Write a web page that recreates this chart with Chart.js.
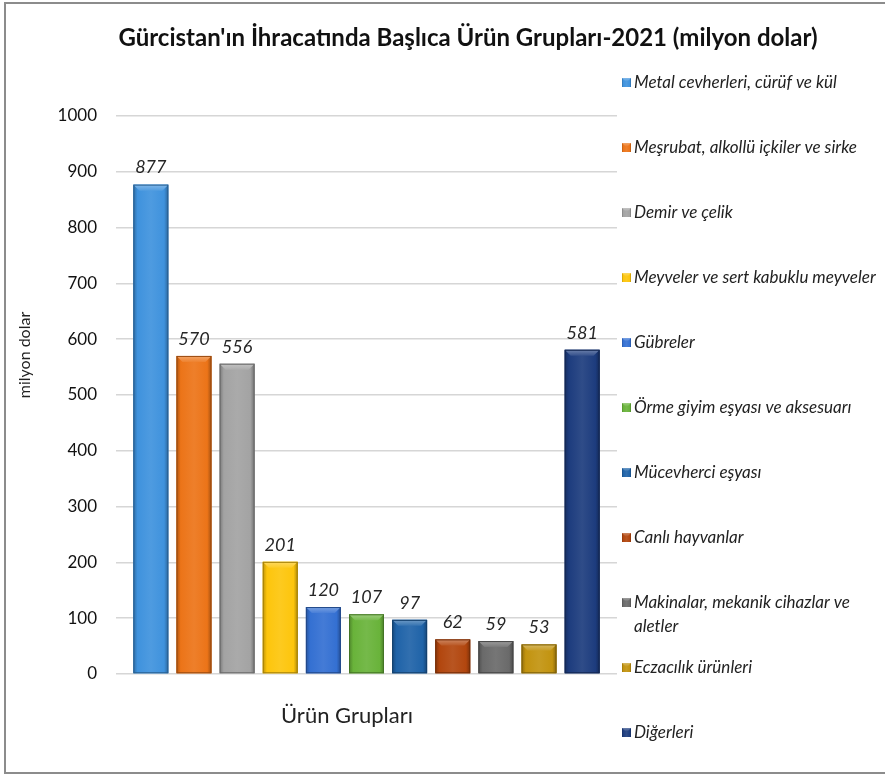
<!DOCTYPE html>
<html>
<head>
<meta charset="utf-8">
<script src="https://cdn.jsdelivr.net/npm/chart.js@4.4.1/dist/chart.umd.min.js"></script>
<style>
html,body{margin:0;padding:0;background:#fff;}
#wrap{position:relative;width:885px;height:776px;overflow:hidden;}
#frame{position:absolute;left:4px;top:2px;width:900px;height:768px;border:2px solid #8c8c8c;pointer-events:none;}
canvas{position:absolute;left:0;top:0;}
</style>
</head>
<body>
<div id="wrap"><canvas id="myChart" width="885" height="776"></canvas><div id="frame"></div></div>
<script>
const titleText = "Gürcistan'ın İhracatında Başlıca Ürün Grupları-2021 (milyon dolar)";
const yTitle = 'milyon dolar';
const categories = ['Ürün Grupları'];
const groups = [
	'Metal cevherleri, cürüf ve kül',
	'Meşrubat, alkollü içkiler ve sirke',
	'Demir ve çelik',
	'Meyveler ve sert kabuklu meyveler',
	'Gübreler',
	'Örme giyim eşyası ve aksesuarı',
	'Mücevherci eşyası',
	'Canlı hayvanlar',
	'Makinalar, mekanik cihazlar ve aletler',
	'Eczacılık ürünleri',
	'Diğerleri'
];
const values = [877, 570, 556, 201, 120, 107, 97, 62, 59, 53, 581];
const colors = ['#3f92dd', '#ec7418', '#a3a3a3', '#fdc50c', '#3470d2', '#69b33a', '#1f63a8', '#b2460e', '#6a6a6a', '#c2930f', '#1d3c7e'];
const yMin = 0, yMax = 1000, yStep = 100;

const font = 'Lato, "Open Sans", sans-serif';

function shade(hex, f) {
	const n = parseInt(hex.slice(1), 16);
	let r = n >> 16, g = (n >> 8) & 255, b = n & 255;
	if (f < 0) { r *= 1 + f; g *= 1 + f; b *= 1 + f; }
	else { r += (255 - r) * f; g += (255 - g) * f; b += (255 - b) * f; }
	return 'rgb(' + Math.round(r) + ',' + Math.round(g) + ',' + Math.round(b) + ')';
}

function bevel(ctx, x, y, w, h, col) {
	const g = ctx.createLinearGradient(x, 0, x + w, 0);
	g.addColorStop(0, shade(col, -0.25));
	g.addColorStop(0.12, col);
	g.addColorStop(0.5, shade(col, 0.08));
	g.addColorStop(0.88, col);
	g.addColorStop(1, shade(col, -0.3));
	ctx.fillStyle = g;
	ctx.fillRect(x, y, w, h);
	const t = Math.min(6, h / 3);
	const g2 = ctx.createLinearGradient(0, y, 0, y + t);
	g2.addColorStop(0, shade(col, 0.35));
	g2.addColorStop(1, shade(col, 0.1));
	ctx.fillStyle = g2;
	ctx.beginPath();
	ctx.moveTo(x, y);
	ctx.lineTo(x + w, y);
	ctx.lineTo(x + w - t, y + t);
	ctx.lineTo(x + t, y + t);
	ctx.closePath();
	ctx.fill();
}

const extras = {
	id: 'extras',
	afterDatasetsDraw(chart) {
		const ctx = chart.ctx;
		ctx.save();
		chart.data.datasets.forEach(function(ds, i) {
			const bar = chart.getDatasetMeta(i).data[0];
			const x = bar.x - bar.width / 2;
			bevel(ctx, x, bar.y, bar.width, bar.base - bar.y, ds.backgroundColor);
			ctx.strokeStyle = shade(ds.backgroundColor, -0.35);
			ctx.lineWidth = 1;
			ctx.strokeRect(x + 0.5, bar.y + 0.5, bar.width - 1, bar.base - bar.y - 1);
			ctx.fillStyle = '#262626';
			ctx.font = 'italic 18px ' + font;
			ctx.textAlign = 'center';
			ctx.textBaseline = 'middle';
			ctx.fillText(ds.data[0], bar.x, bar.y - 17);
		});

		// title
		ctx.fillStyle = '#111';
		ctx.font = 'bold 24px ' + font;
		ctx.textAlign = 'center';
		ctx.textBaseline = 'middle';
		ctx.fillText(titleText, 468, 38);

		// axis titles
		ctx.font = '16px ' + font;
		ctx.fillStyle = '#222';
		ctx.save();
		ctx.translate(25, 355);
		ctx.rotate(-Math.PI / 2);
		ctx.fillText(yTitle, 0, 0);
		ctx.restore();
		ctx.font = '22px ' + font;
		ctx.fillText(categories[0], 347, 716);

		// legend
		ctx.font = 'italic 17px ' + font;
		ctx.textAlign = 'left';
		const lx = 622, tx = 634;
		chart.data.datasets.forEach(function(ds, i) {
			const cy = 83 + 65 * i;
			bevel(ctx, lx, cy - 5, 9, 9, ds.backgroundColor);
			const words = ds.label.split(' ');
			const lines = [];
			let cur = '';
			words.forEach(function(w) {
				const t = cur ? cur + ' ' + w : w;
				if (ctx.measureText(t).width > 250 && cur) { lines.push(cur); cur = w; } else cur = t;
			});
			lines.push(cur);
			ctx.fillStyle = '#222';
			lines.forEach(function(l, k) { ctx.fillText(l, tx, cy + k * 24); });
		});
		ctx.restore();
	}
};

const ctx = document.getElementById('myChart');
const chart = new Chart(ctx, {
	type: 'bar',
	data: {
		labels: categories,
		datasets: groups.map(function(g, i) {
			return { label: g, data: [values[i]], backgroundColor: colors[i] };
		})
	},
	options: {
		responsive: false,
		animation: false,
		categoryPercentage: 0.947,
		barPercentage: 0.81,
		layout: { padding: { top: 116, right: 268, bottom: 102, left: 0 } },
		plugins: { legend: { display: false }, title: { display: false }, tooltip: { enabled: false } },
		scales: {
			x: { display: false },
			y: {
				min: yMin,
				max: yMax,
				afterFit: function(s) { s.width = 116; },
				border: { display: false },
				grid: { color: '#d6d6d6', lineWidth: 1.5, drawTicks: false },
				ticks: { stepSize: yStep, padding: 19, color: '#111', font: { family: font, size: 17 }, callback: function(v) { return String(v); } }
			}
		}
	},
	plugins: [extras]
});
</script>
</body>
</html>
